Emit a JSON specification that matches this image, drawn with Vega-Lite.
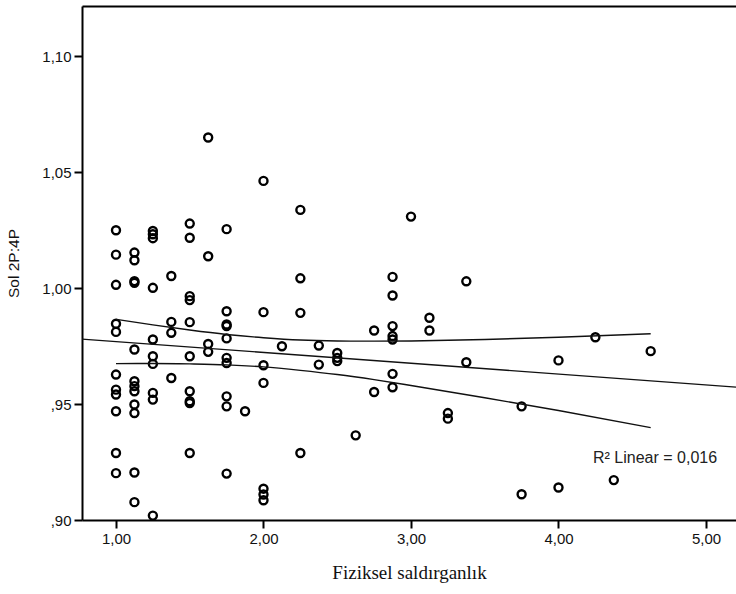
{
  "$schema": "https://vega.github.io/schema/vega-lite/v6.json",
  "width": 654,
  "height": 514,
  "autosize": {"type": "none"},
  "padding": {"left": 82, "top": 6, "right": 0, "bottom": 74},
  "background": "white",
  "config": {
    "view": {"stroke": null},
    "axis": {"grid": false, "domainColor": "#000", "domainWidth": 2, "ticks": true, "tickColor": "#000", "tickWidth": 2, "tickSize": 8, "labelColor": "#111", "labelFont": "Liberation Sans", "labelFontSize": 15, "titleColor": "#111", "titleFontWeight": "normal"}
  },
  "datasets": {
    "pts": [
      {"x": 1.0, "y": 1.0249}, {"x": 1.0, "y": 1.0144}, {"x": 1.0, "y": 1.0014}, {"x": 1.0, "y": 0.9846}, {"x": 1.0, "y": 0.9811}, {"x": 1.0, "y": 0.9627}, {"x": 1.0, "y": 0.9562}, {"x": 1.0, "y": 0.9541}, {"x": 1.0, "y": 0.9469}, {"x": 1.0, "y": 0.9289}, {"x": 1.0, "y": 0.9202},
      {"x": 1.125, "y": 1.0153}, {"x": 1.125, "y": 1.012}, {"x": 1.125, "y": 1.003}, {"x": 1.125, "y": 1.0023}, {"x": 1.125, "y": 0.9735}, {"x": 1.125, "y": 0.9598}, {"x": 1.125, "y": 0.9577}, {"x": 1.125, "y": 0.9555}, {"x": 1.125, "y": 0.9498}, {"x": 1.125, "y": 0.9461}, {"x": 1.125, "y": 0.9205}, {"x": 1.125, "y": 0.9077},
      {"x": 1.25, "y": 1.0246}, {"x": 1.25, "y": 1.0232}, {"x": 1.25, "y": 1.0215}, {"x": 1.25, "y": 1.0001}, {"x": 1.25, "y": 0.9778}, {"x": 1.25, "y": 0.9706}, {"x": 1.25, "y": 0.9673}, {"x": 1.25, "y": 0.9548}, {"x": 1.25, "y": 0.9519}, {"x": 1.25, "y": 0.9019},
      {"x": 1.375, "y": 1.0052}, {"x": 1.375, "y": 0.9854}, {"x": 1.375, "y": 0.9807}, {"x": 1.375, "y": 0.9612},
      {"x": 1.5, "y": 1.0278}, {"x": 1.5, "y": 1.0217}, {"x": 1.5, "y": 0.9965}, {"x": 1.5, "y": 0.9948}, {"x": 1.5, "y": 0.9853}, {"x": 1.5, "y": 0.9706}, {"x": 1.5, "y": 0.9555}, {"x": 1.5, "y": 0.9512}, {"x": 1.5, "y": 0.9504}, {"x": 1.5, "y": 0.9289},
      {"x": 1.625, "y": 1.0649}, {"x": 1.625, "y": 1.0137}, {"x": 1.625, "y": 0.9759}, {"x": 1.625, "y": 0.9725},
      {"x": 1.75, "y": 1.0254}, {"x": 1.75, "y": 0.990}, {"x": 1.75, "y": 0.9843}, {"x": 1.75, "y": 0.9836}, {"x": 1.75, "y": 0.9783}, {"x": 1.75, "y": 0.9699}, {"x": 1.75, "y": 0.9677}, {"x": 1.75, "y": 0.9533}, {"x": 1.75, "y": 0.949}, {"x": 1.75, "y": 0.92},
      {"x": 1.875, "y": 0.9469},
      {"x": 2.0, "y": 1.0462}, {"x": 2.0, "y": 0.9896}, {"x": 2.0, "y": 0.9667}, {"x": 2.0, "y": 0.9591}, {"x": 2.0, "y": 0.9135}, {"x": 2.0, "y": 0.911}, {"x": 2.0, "y": 0.9085},
      {"x": 2.125, "y": 0.9749},
      {"x": 2.25, "y": 1.0337}, {"x": 2.25, "y": 1.0042}, {"x": 2.25, "y": 0.9893}, {"x": 2.25, "y": 0.9289},
      {"x": 2.375, "y": 0.9752}, {"x": 2.375, "y": 0.967},
      {"x": 2.5, "y": 0.972}, {"x": 2.5, "y": 0.9699}, {"x": 2.5, "y": 0.9685},
      {"x": 2.625, "y": 0.9365},
      {"x": 2.75, "y": 0.9817}, {"x": 2.75, "y": 0.9552},
      {"x": 2.875, "y": 1.0048}, {"x": 2.875, "y": 0.9968}, {"x": 2.875, "y": 0.9836}, {"x": 2.875, "y": 0.9793}, {"x": 2.875, "y": 0.9778}, {"x": 2.875, "y": 0.963}, {"x": 2.875, "y": 0.9572},
      {"x": 3.0, "y": 1.0308},
      {"x": 3.125, "y": 0.9872}, {"x": 3.125, "y": 0.9817},
      {"x": 3.25, "y": 0.9461}, {"x": 3.25, "y": 0.9437},
      {"x": 3.375, "y": 1.0029}, {"x": 3.375, "y": 0.968},
      {"x": 3.75, "y": 0.949}, {"x": 3.75, "y": 0.9111},
      {"x": 4.0, "y": 0.9688}, {"x": 4.0, "y": 0.914},
      {"x": 4.25, "y": 0.9788},
      {"x": 4.375, "y": 0.9172},
      {"x": 4.625, "y": 0.9728}
    ],
    "fit": [
      {"x": 0.7695, "y": 0.978},
      {"x": 5.2034, "y": 0.9573}
    ],
    "ci": [
      {"band": "upper", "x": 1.0, "y": 0.9865}, {"band": "upper", "x": 1.25, "y": 0.9841}, {"band": "upper", "x": 1.5, "y": 0.9819}, {"band": "upper", "x": 1.75, "y": 0.98}, {"band": "upper", "x": 2.0, "y": 0.9786}, {"band": "upper", "x": 2.25, "y": 0.9776}, {"band": "upper", "x": 2.5, "y": 0.9772}, {"band": "upper", "x": 2.75, "y": 0.9771}, {"band": "upper", "x": 3.0, "y": 0.9772}, {"band": "upper", "x": 3.5, "y": 0.9778}, {"band": "upper", "x": 4.0, "y": 0.9788}, {"band": "upper", "x": 4.625, "y": 0.9803},
      {"band": "lower", "x": 1.0, "y": 0.9674}, {"band": "lower", "x": 1.25, "y": 0.9675}, {"band": "lower", "x": 1.5, "y": 0.9673}, {"band": "lower", "x": 1.75, "y": 0.9669}, {"band": "lower", "x": 2.0, "y": 0.966}, {"band": "lower", "x": 2.25, "y": 0.9645}, {"band": "lower", "x": 2.5, "y": 0.9627}, {"band": "lower", "x": 2.75, "y": 0.9605}, {"band": "lower", "x": 3.0, "y": 0.958}, {"band": "lower", "x": 3.5, "y": 0.9527}, {"band": "lower", "x": 4.0, "y": 0.9472}, {"band": "lower", "x": 4.625, "y": 0.9398}
    ],
    "note": [
      {"x": 4.234, "y": 0.9267, "label": "R² Linear = 0,016"}
    ]
  },
  "layer": [
    {
      "data": {"name": "pts"},
      "mark": {"type": "point", "shape": "circle", "filled": false, "size": 64, "strokeWidth": 2.4, "color": "#000", "opacity": 1},
      "encoding": {
        "x": {"field": "x", "type": "quantitative",
          "scale": {"domain": [0.7695, 5.2034], "nice": false, "zero": false},
          "axis": {"orient": "bottom", "values": [1, 2, 3, 4, 5], "labelExpr": "replace(format(datum.value, '.2f'), '.', ',')", "labelPadding": 3, "title": "Fiziksel saldırganlık", "titleFont": "Liberation Serif", "titleFontSize": 19, "titlePadding": 17}},
        "y": {"field": "y", "type": "quantitative",
          "scale": {"domain": [0.9, 1.1216], "nice": false, "zero": false},
          "axis": {"orient": "left", "values": [0.9, 0.95, 1.0, 1.05, 1.1], "ticks": true, "tickSize": 8, "labelExpr": "datum.value < 1 ? replace(format(datum.value, '.2f'), '0.', ',') : replace(format(datum.value, '.2f'), '.', ',')", "labelPadding": 3, "title": "Sol 2P:4P", "titleFont": "Liberation Sans", "titleFontSize": 15.5, "titlePadding": 20}}
      }
    },
    {
      "data": {"name": "fit"},
      "mark": {"type": "line", "color": "#111", "strokeWidth": 1.4},
      "encoding": {
        "x": {"field": "x", "type": "quantitative", "axis": {"orient": "top", "labels": false, "ticks": false, "title": null, "domain": true}},
        "y": {"field": "y", "type": "quantitative"}
      }
    },
    {
      "data": {"name": "ci"},
      "mark": {"type": "line", "color": "#111", "strokeWidth": 1.4, "interpolate": "monotone"},
      "encoding": {
        "x": {"field": "x", "type": "quantitative", "axis": null},
        "y": {"field": "y", "type": "quantitative"},
        "detail": {"field": "band", "type": "nominal"}
      }
    },
    {
      "data": {"name": "note"},
      "mark": {"type": "text", "align": "left", "baseline": "middle", "font": "Liberation Sans", "fontSize": 16, "color": "#222"},
      "encoding": {
        "x": {"field": "x", "type": "quantitative", "axis": null},
        "y": {"field": "y", "type": "quantitative"},
        "text": {"field": "label", "type": "nominal"}
      }
    }
  ]
}
